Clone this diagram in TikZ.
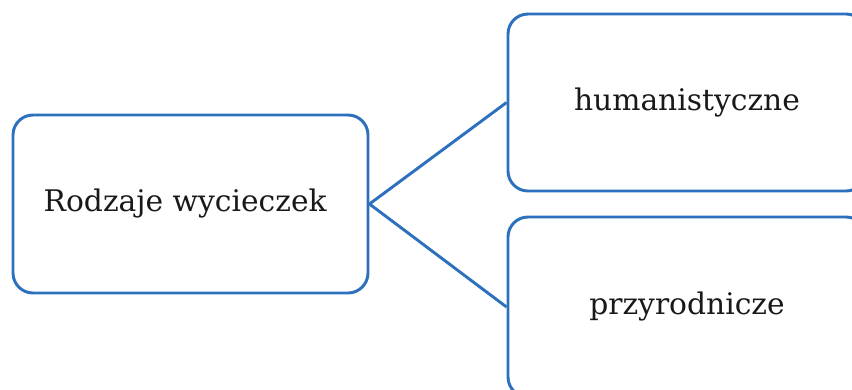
\documentclass[tikz,border=0pt]{standalone}
\usepackage{fontspec}
\setmainfont{DejaVu Serif}
\definecolor{boxblue}{RGB}{44,112,190}
\definecolor{txt}{RGB}{25,25,25}
\begin{document}
\begin{tikzpicture}[x=0.75pt,y=-0.75pt,
  box/.style={draw=boxblue,line width=2.2pt,rounded corners=15pt,fill=white,
    inner sep=0pt,text=txt,font=\fontsize{22.3}{26}\selectfont},
  link/.style={draw=boxblue,line width=2.2pt}]
\useasboundingbox (0,0) rectangle (852,389);
\clip (0,0) rectangle (852,389);
\node[box,minimum width=266.25pt,minimum height=133.5pt] (root) at (190.5,204) {\hspace*{-8pt}Rodzaje wycieczek};
\node[box,minimum width=268.5pt,minimum height=132.75pt] (hum) at (687,102.5) {humanistyczne};
\node[box,minimum width=268.5pt,minimum height=135pt] (przy) at (687,307) {przyrodnicze};
\draw[link] (root.east) -- (hum.west);
\draw[link] (root.east) -- (przy.west);
\end{tikzpicture}
\end{document}
